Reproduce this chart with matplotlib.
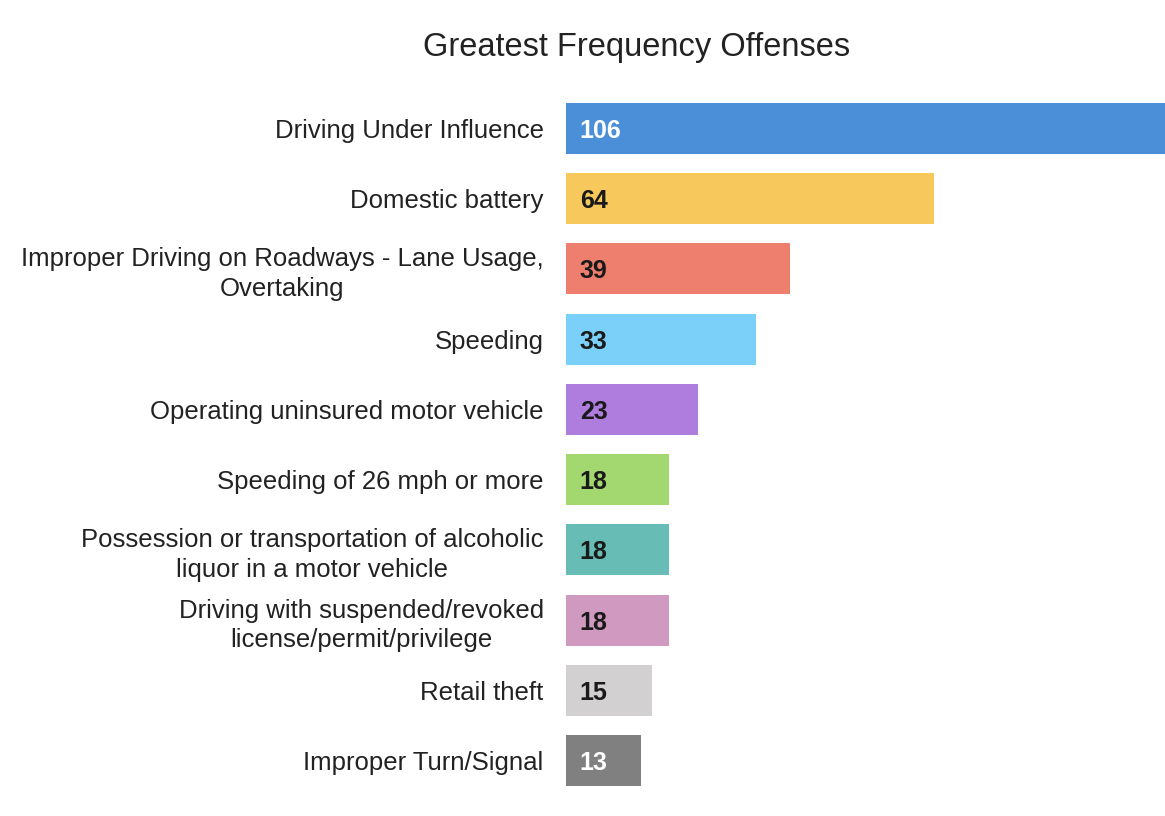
import matplotlib
matplotlib.use("Agg")
import matplotlib.pyplot as plt

# offense categories, top to bottom
offenses = ["Driving Under Influence",
            "Domestic battery",
            "Improper Driving on Roadways - Lane Usage,\nOvertaking",
            "Speeding",
            "Operating uninsured motor vehicle",
            "Speeding of 26 mph or more",
            "Possession or transportation of alcoholic\nliquor in a motor vehicle",
            "Driving with suspended/revoked\nlicense/permit/privilege",
            "Retail theft",
            "Improper Turn/Signal"]
counts = [106, 64, 39, 33, 23, 18, 18, 18, 15, 13]
bar_colors = ["#4a8fd7", "#f7c95c", "#ee7f6e", "#7bd0f9", "#ae7ddd",
              "#a3d870", "#67bdb5", "#d09ac0", "#d2d0d0", "#808080"]
value_colors = ["white", "#1a1a1a", "#1a1a1a", "#1a1a1a", "#1a1a1a",
                "#1a1a1a", "#1a1a1a", "#1a1a1a", "#1a1a1a", "white"]

plt.rcParams['font.family'] = ['Liberation Sans', 'DejaVu Sans']

fig = plt.figure(figsize=(11.65, 8.16), dpi=100)
ax = fig.add_axes([0.4858, 0.025, 0.5142, 0.8605])

pos = list(range(len(counts)))
ax.barh(pos, counts, height=0.726, color=bar_colors)
ax.set_xlim(0, 104.2)
ax.set_ylim(9.5, -0.5)

for i, v in enumerate(counts):
    ax.text(2.4, i, str(v), ha='left', va='center_baseline', fontsize=18,
            fontweight='bold', color=value_colors[i])

ax.set_yticks(pos)
ax.set_yticklabels(offenses, fontsize=18.5, color="#222222")
for lbl in ax.get_yticklabels():
    lbl.set_multialignment('center')
    lbl.set_linespacing(1.3)
ax.tick_params(axis='y', length=0, pad=16)
ax.set_xticks([])
for s in ax.spines.values():
    s.set_visible(False)

fig.text(0.546, 0.942, "Greatest Frequency Offenses", ha='center', va='center',
         fontsize=23.5, color="#222222")

fig.savefig("out.png", dpi=100)
